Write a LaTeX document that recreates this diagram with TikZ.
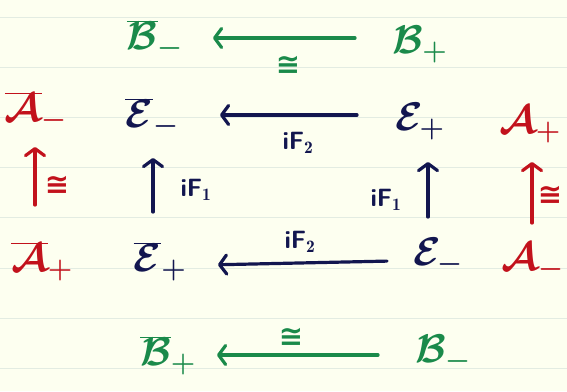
\RequirePackage{fix-cm}
\documentclass[tikz,border=0pt]{standalone}
\usepackage{fontspec}
\newfontfamily\symfont{DejaVu Sans}
\usetikzlibrary{arrows.meta}
\definecolor{paper}{HTML}{FDFFF0}
\definecolor{ruleline}{HTML}{E3ECE2}
\definecolor{hgreen}{HTML}{1A8A4A}
\definecolor{hred}{HTML}{C2121C}
\definecolor{hnavy}{HTML}{12164F}
\tikzset{
  obj/.style={inner sep=0pt, font=\fontsize{40}{44}\selectfont\boldmath},
  lab/.style={inner sep=0pt, font=\fontsize{25}{27}\selectfont\sffamily\bfseries},
  cong/.style={inner sep=0pt, font=\fontsize{29}{31}\selectfont\symfont\bfseries},
  harrow/.style={line width=3.2pt, line cap=round, line join=round,
    -{Straight Barb[length=7pt,width=19pt,line cap=round,line join=round]}},
}
\begin{document}
\begin{tikzpicture}[x=1pt,y=-1pt]
\fill[paper] (0,0) rectangle (567,391);
\useasboundingbox (0,0) rectangle (567,391);
\foreach \k in {0,...,7} {
  \draw[ruleline, line width=0.9pt] (0,{17+50.2*\k}) -- (567,{17+50.2*\k});
}
% objects
\node[obj, text=hgreen] (Bbm) at (155,40) {$\overline{\mathcal{B}}_-$};
\node[obj, text=hgreen] (Bp)  at (420,45) {$\mathcal{B}_+$};
\node[obj, text=hred]   (Abm) at (36,112) {$\overline{\mathcal{A}}_-$};
\node[obj, text=hnavy]  (Ebm) at (152,118) {$\overline{\mathcal{E}}_-$};
\node[obj, text=hnavy]  (Ep)  at (420,122) {$\mathcal{E}_+$};
\node[obj, text=hred]   (Ap)  at (530,125) {$\mathcal{A}_+$};
\node[obj, text=hred]   (Abp) at (42,262) {$\overline{\mathcal{A}}_+$};
\node[obj, text=hnavy]  (Ebp) at (160,262) {$\overline{\mathcal{E}}_+$};
\node[obj, text=hnavy]  (Em)  at (438,257) {$\mathcal{E}_-$};
\node[obj, text=hred]   (Am)  at (533,262) {$\mathcal{A}_-$};
\node[obj, text=hgreen] (Bbp) at (168,356) {$\overline{\mathcal{B}}_+$};
\node[obj, text=hgreen] (Bm)  at (443,354) {$\mathcal{B}_-$};
% labels
\node[cong, text=hgreen] (c1) at (288,65) {≅};
\node[cong, text=hgreen] (c2) at (291,337) {≅};
\node[cong, text=hred]   (c3) at (57,185) {≅};
\node[cong, text=hred]   (c4) at (550,195) {≅};
\node[lab, text=hnavy] (f2a) at (298,143) {iF$_{\mathbf{2}}$};
\node[lab, text=hnavy] (f2b) at (300,242) {iF$_{\mathbf{2}}$};
\node[lab, text=hnavy] (f1a) at (196,190) {iF$_{\mathbf{1}}$};
\node[lab, text=hnavy] (f1b) at (386,200) {iF$_{\mathbf{1}}$};
% arrows
\draw[harrow, hgreen, shorten <=65pt, shorten >=58pt] ([yshift=7pt]Bp.center) -- ([yshift=2pt]Bbm.center);
\draw[harrow, hnavy, shorten <=63pt, shorten >=68pt] ([yshift=7pt]Ep.center) -- ([yshift=3pt]Ebm.center);
\draw[harrow, hnavy, shorten <=51pt, shorten >=58pt] ([yshift=-3pt]Em.center) -- ([yshift=-4pt]Ebp.center);
\draw[harrow, hgreen, shorten <=65pt, shorten >=49pt] ([yshift=-1pt]Bm.center) -- ([yshift=1pt]Bbp.center);
\draw[harrow, hred, shorten <=57pt, shorten >=35pt] ([xshift=-7pt]Abp.center) -- ([xshift=-1pt]Abm.center);
\draw[harrow, hnavy, shorten <=50pt, shorten >=40pt] ([xshift=-7pt]Ebp.center) -- ([xshift=1pt]Ebm.center);
\draw[harrow, hnavy, shorten <=40pt, shorten >=40pt] ([xshift=-10pt]Em.center) -- ([xshift=8pt]Ep.center);
\draw[harrow, hred, shorten <=39pt, shorten >=37pt] ([xshift=-1pt]Am.center) -- ([xshift=2pt]Ap.center);
\end{tikzpicture}
\end{document}
